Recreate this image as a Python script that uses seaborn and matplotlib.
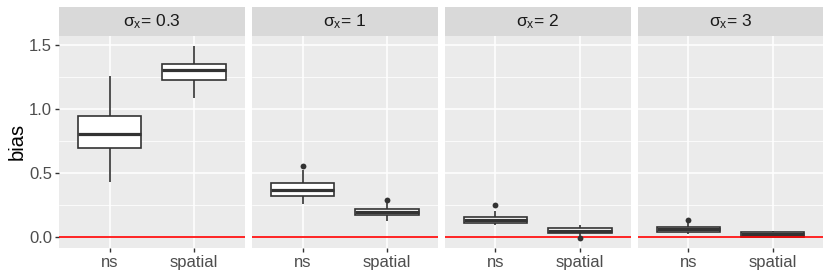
import numpy as np
import pandas as pd
import seaborn as sns
from matplotlib import pyplot as plt
from matplotlib.patches import Rectangle

# Panels (sigma_x) and the two methods on the x axis
sigmas = ["0.3", "1", "2", "3"]
methods = ["ns", "spatial"]

# five-number summaries (whisker ends, quartiles, median)
ns_lo = [0.434, 0.258, 0.095, 0.030]
ns_q1 = [0.697, 0.320, 0.110, 0.045]
ns_med = [0.808, 0.372, 0.134, 0.065]
ns_q3 = [0.945, 0.422, 0.157, 0.084]
ns_hi = [1.257, 0.525, 0.204, 0.115]
ns_out = [None, 0.559, 0.253, 0.136]

spatial_lo = [1.088, 0.128, 0.008, 0.000]
spatial_q1 = [1.226, 0.175, 0.035, 0.006]
spatial_med = [1.300, 0.198, 0.053, 0.025]
spatial_q3 = [1.353, 0.222, 0.072, 0.040]
spatial_hi = [1.490, 0.266, 0.097, 0.050]
spatial_out = [None, 0.294, -0.006, None]

# long tables for seaborn
rows, outs = [], []
summ = {"ns": (ns_lo, ns_q1, ns_med, ns_q3, ns_hi, ns_out),
        "spatial": (spatial_lo, spatial_q1, spatial_med, spatial_q3,
                    spatial_hi, spatial_out)}
for i, s in enumerate(sigmas):
    for m in methods:
        lo, q1, med, q3, hi, out = summ[m]
        for v in (lo[i], q1[i], med[i], q3[i], hi[i]):
            rows.append({"sigma": s, "method": m, "bias": v})
        if out[i] is not None:
            outs.append({"sigma": s, "method": m, "bias": out[i]})
df = pd.DataFrame(rows)
df_out = pd.DataFrame(outs)

sns.set_theme(style="darkgrid", rc={
    "axes.facecolor": "#EBEBEB",
    "grid.color": "white",
    "axes.edgecolor": "#EBEBEB",
    "xtick.bottom": True, "ytick.left": True,
    "xtick.color": "#333333", "ytick.color": "#333333",
    "xtick.major.size": 3, "ytick.major.size": 3,
    "xtick.major.width": 1.0, "ytick.major.width": 1.0,
    "xtick.major.pad": 2, "ytick.major.pad": 2,
})
plt.rcParams["font.family"] = ["Liberation Sans", "DejaVu Sans"]
plt.rcParams["mathtext.fontset"] = "custom"
plt.rcParams["mathtext.rm"] = "Liberation Sans"
plt.rcParams["mathtext.it"] = "Liberation Sans"

fig, axes = plt.subplots(1, 4, figsize=(8.3, 2.77), dpi=100, sharey=True)
plt.subplots_adjust(left=0.0711, right=0.992, bottom=0.106, top=0.870,
                    wspace=0.0376)

for ax, s in zip(axes, sigmas):
    sub = df[df["sigma"] == s]
    sns.boxplot(data=sub, x="method", y="bias", order=methods, ax=ax,
                whis=(0, 100), width=0.75, color="white", linecolor="#333333",
                linewidth=1.2, fill=True, showfliers=False, showcaps=False,
                medianprops={"color": "#333333", "linewidth": 2.3})
    so = df_out[df_out["sigma"] == s]
    if len(so):
        sns.stripplot(data=so, x="method", y="bias", order=methods, ax=ax,
                      jitter=False, color="#333333", size=4.2, zorder=5)
    ax.axhline(0, color="#FF0000", linewidth=1.2, zorder=4)
    ax.set_xlim(-0.6, 1.6)
    ax.set_ylim(-0.079, 1.568)
    ax.set_yticks([0, 0.5, 1.0, 1.5])
    ax.set_yticks([0.25, 0.75, 1.25], minor=True)
    ax.grid(which="major", color="white", linewidth=1.1)
    ax.grid(which="minor", axis="y", color="white", linewidth=0.55)
    ax.tick_params(which="minor", left=False)
    ax.tick_params(axis="both", labelsize=12, labelcolor="#4D4D4D")
    ax.set_xlabel("")
    ax.set_ylabel("")
    for sp in ax.spines.values():
        sp.set_visible(False)
    # ggplot-like strip on top of each panel
    strip_h = 29.3 / 211.7
    ax.add_patch(Rectangle((0, 1), 1, strip_h, transform=ax.transAxes,
                           facecolor="#D9D9D9", edgecolor="none",
                           clip_on=False))
    ax.text(0.5, 1 + strip_h / 2, "\u03c3$_{\\mathrm{x}}$= " + s,
            transform=ax.transAxes, ha="center", va="center",
            fontsize=12.5, color="#1A1A1A")

for ax in axes[1:]:
    ax.tick_params(axis="y", left=False)
axes[0].yaxis.set_major_formatter(plt.FuncFormatter(lambda v, p: f"{v:.1f}"))
axes[0].set_ylabel("bias", fontsize=14.5, color="black", labelpad=2)

plt.savefig("out.png", dpi=100)
